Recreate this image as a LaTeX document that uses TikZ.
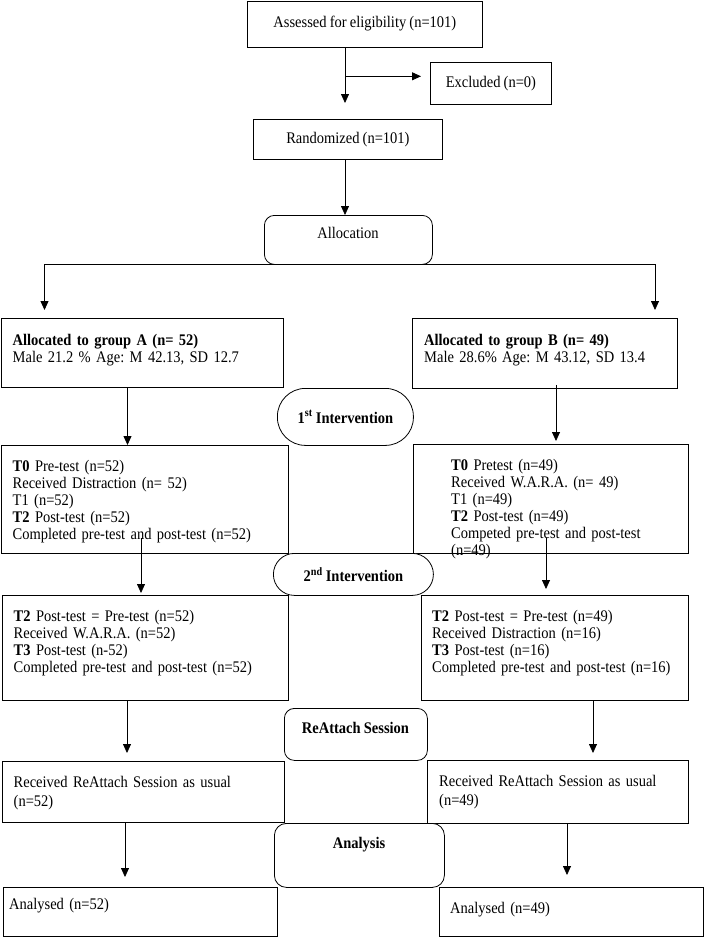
\documentclass[tikz,border=0pt]{standalone}
\usepackage{fontspec}
\setmainfont{Liberation Serif}[FakeStretch=0.895]
\usetikzlibrary{arrows.meta,calc}
\newcommand\diafont{\fontsize{16.2}{17}\selectfont\frenchspacing\spaceskip=0.88\fontdimen2\font}
\newcommand\diafontwide{\fontsize{16.2}{19}\selectfont\frenchspacing\spaceskip=0.88\fontdimen2\font}
\begin{document}
\begin{tikzpicture}[x=1pt,y=-1pt,
  box/.style={draw=black, line width=0.8pt, fill=white, anchor=north west, inner sep=0pt, font=\diafont},
  rbox/.style={box, rounded corners=#1},
  txt/.style={anchor=base west, align=left, inner sep=0pt, text width=300pt, font=\diafont},
  ctxt/.style={anchor=base, inner sep=0pt, font=\diafont\bfseries},
  arr/.style={draw=black, line width=0.8pt, -{Triangle[length=9pt,width=8pt]}}]
\useasboundingbox (0,0) rectangle (704,937);
% boxes
\node[box, minimum width=235pt, minimum height=46pt] (assess) at (247,0.5) {Assessed for eligibility (n=101)};
\node[box, minimum width=121pt, minimum height=42pt] (excl) at (430,62) {Excluded (n=0)};
\node[box, minimum width=189pt, minimum height=40pt] (rand) at (253,119) {Randomized (n=101)};
\node[rbox=10pt, minimum width=168pt, minimum height=49pt] (alloc) at (264,215) {};
\node[ctxt, font=\diafont] (alloct) at (348,238) {Allocation};
\node[box, minimum width=282.5pt, minimum height=69pt] (gA) at (0.5,318) {};
\node[box, minimum width=265pt, minimum height=70pt] (gB) at (412,318) {};
\node[box, minimum width=287pt, minimum height=108pt] (t0A) at (1,445) {};
\node[box, minimum width=275pt, minimum height=109pt] (t0B) at (413,444) {};
\node[box, minimum width=286pt, minimum height=105pt] (t2A) at (2,595) {};
\node[box, minimum width=267pt, minimum height=105pt] (t2B) at (421,595) {};
\node[box, minimum width=282pt, minimum height=61pt] (recA) at (2,761) {};
\node[box, minimum width=261pt, minimum height=63pt] (recB) at (427,760) {};
\node[box, minimum width=274pt, minimum height=49pt] (anA) at (3,887) {};
\node[box, minimum width=264pt, minimum height=49pt] (anB) at (439,887) {};
% stage labels
\node[rbox=28pt, minimum width=136pt, minimum height=57pt, font=\diafont\bfseries] (int1) at (277,388) {1\textsuperscript{st} Intervention};
\node[rbox=21pt, minimum width=160pt, minimum height=42pt, font=\diafont\bfseries] (int2) at (273,553) {2\textsuperscript{nd} Intervention};
\node[rbox=10pt, minimum width=143pt, minimum height=52pt] (reatt) at (284,708) {};
\node[ctxt] (reattt) at (355.5,733) {ReAttach Session};
\node[rbox=12pt, minimum width=170pt, minimum height=64pt] (anal) at (274,823) {};
\node[ctxt] (analt) at (359,848) {Analysis};
% texts
\node[txt] (gAt) at (12.5,345) {\textbf{Allocated to group A (n= 52)}\\Male 21.2 \% Age: M 42.13, SD 12.7};
\node[txt] (gBt) at (424,345) {\textbf{Allocated to group B (n= 49)}\\Male 28.6\% Age: M 43.12, SD 13.4};
\node[txt] (t0At) at (12.5,471) {\textbf{T0} Pre-test (n=52)\\Received Distraction (n= 52)\\T1 (n=52)\\\textbf{T2} Post-test (n=52)\\Completed pre-test and post-test (n=52)};
\node[txt] (t0Bt) at (451,470) {\textbf{T0} Pretest (n=49)\\Received W.A.R.A. (n= 49)\\T1 (n=49)\\\textbf{T2} Post-test (n=49)\\Competed pre-test and post-test\\(n=49)};
\node[txt] (t2At) at (13.5,621) {\textbf{T2} Post-test = Pre-test (n=52)\\Received W.A.R.A. (n=52)\\\textbf{T3} Post-test (n-52)\\Completed pre-test and post-test (n=52)};
\node[txt] (t2Bt) at (432,621) {\textbf{T2} Post-test = Pre-test (n=49)\\Received Distraction (n=16)\\\textbf{T3} Post-test (n=16)\\Completed pre-test and post-test (n=16)};
\node[txt, font=\diafontwide] (recAt) at (13.5,787) {Received ReAttach Session as usual\\(n=52)};
\node[txt, font=\diafontwide] (recBt) at (439,786) {Received ReAttach Session as usual\\(n=49)};
\node[txt] (anAt) at (9,909) {Analysed (n=52)};
\node[txt] (anBt) at (450,913) {Analysed (n=49)};
% connectors
\draw[arr, shorten >=16pt] (assess.south west) ++(98,0) coordinate (a1) -- (a1 |- rand.north);
\draw[arr, shorten >=9pt] (a1) ++(0,29) coordinate (br) -- (br -| excl.west);
\draw[arr] (rand.south west) ++(92,0) coordinate (a3) -- (a3 |- alloc.north);
\draw[arr, shorten >=8pt] (alloc.south) -| ($(gA.north west)+(44,0)$);
\draw[arr, shorten >=8pt] (alloc.south) -| ($(gB.north west)+(243,0)$);
\draw[arr] (gA.south west) ++(127,0) coordinate (a5) -- (a5 |- t0A.north);
\draw[arr, shorten >=3pt] (gB.south west) ++(144,-4) coordinate (a6) -- (a6 |- t0B.north);
\draw[arr, shorten >=2pt] (t0A.south west) ++(140,-16) coordinate (a7) -- (a7 |- t2A.north);
\draw[arr, shorten >=6pt] (t0B.south west) ++(133,-16) coordinate (a8) -- (a8 |- t2B.north);
\draw[arr, shorten >=8pt] (t2A.south west) ++(125,0) coordinate (a9) -- (a9 |- recA.north);
\draw[arr, shorten >=7pt] (t2B.south west) ++(172,0) coordinate (a10) -- (a10 |- recB.north);
\draw[arr, shorten >=10pt] (recA.south west) ++(123,0) coordinate (a11) -- (a11 |- anA.north);
\draw[arr, shorten >=12pt] (recB.south west) ++(140,0) coordinate (a12) -- (a12 |- anB.north);
\end{tikzpicture}
\end{document}
